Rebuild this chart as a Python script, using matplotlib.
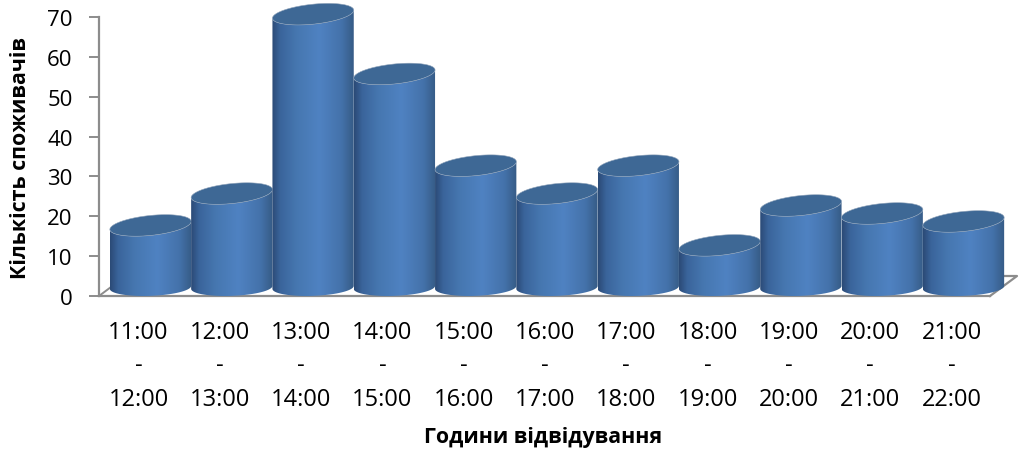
import numpy as np
from matplotlib import pyplot as plt
from matplotlib.colors import LinearSegmentedColormap
from matplotlib.patches import PathPatch, Polygon
from matplotlib.path import Path

# data
hours = ["11:00", "12:00", "13:00", "14:00", "15:00", "16:00", "17:00", "18:00", "19:00", "20:00", "21:00"]
hours_end = ["12:00", "13:00", "14:00", "15:00", "16:00", "17:00", "18:00", "19:00", "20:00", "21:00", "22:00"]
customers = [15, 23, 68, 53, 30, 23, 30, 10, 20, 18, 16]
y_ticks = [0, 10, 20, 30, 40, 50, 60, 70]

W, H = 1022, 452
PX_X = 81.3    # pixels per category
PX_Y = 3.986   # pixels per customer
HALF_W = 0.5   # cylinder half width, category units
TOP_B, TOP_K = 10.0 / PX_Y, 4.0 / PX_Y
BASE_B, BASE_K = 8.5 / PX_Y, 1.5 / PX_Y
LIFT = np.hypot(TOP_B, TOP_K)      # cap centre above its lowest point
BASE_LIFT = np.hypot(BASE_B, BASE_K)

plt.rcParams['font.family'] = ['Open Sans', 'DejaVu Sans']
fig = plt.figure(figsize=(W / 100, H / 100), dpi=100)
ax = fig.add_axes([99 / W, 1 - 297 / H, (W - 99) / W, 297 / H])

side_cmap = LinearSegmentedColormap.from_list(
    'side', [(0, '#2b4a76'), (0.1, '#3a649b'), (0.3, '#4677b0'), (0.58, '#4f82c2'),
             (0.85, '#4472aa'), (1, '#365b85')])
gradient = np.linspace(0, 1, 256).reshape(1, -1)


def ellipse_pts(cx, cy, b, k, t):
    return np.column_stack([cx + HALF_W * np.cos(t), cy + b * np.sin(t) + k * np.cos(t)])


for i, v in enumerate(customers):
    top_cy = v + LIFT
    t_low = np.linspace(np.pi, 2 * np.pi, 60)
    base = ellipse_pts(i, BASE_LIFT, BASE_B, BASE_K, t_low)
    top_back = ellipse_pts(i, top_cy, TOP_B, TOP_K, t_low[::-1])
    body_pts = np.vstack([base, top_back, base[:1]])
    body = PathPatch(Path(body_pts), fc='none', ec='none', zorder=3 + i)
    ax.add_patch(body)
    im = ax.imshow(gradient, cmap=side_cmap, aspect='auto', zorder=3 + i,
                   extent=(i - HALF_W, i + HALF_W, 0, top_cy + 3))
    im.set_clip_path(body)
    cap = ellipse_pts(i, top_cy, TOP_B, TOP_K, np.linspace(0, 2 * np.pi, 120))
    ax.add_patch(Polygon(cap, closed=True, fc='#3e6895', ec='#8fa3ba', lw=0.4, zorder=3 + i))

# imshow resets the limits
ax.set_xlim((99 - 150.5) / PX_X, (W - 150.5) / PX_X)
ax.set_ylim(0, 297 / PX_Y)

grey = '#8c8c8c'
for s in ['top', 'right']:
    ax.spines[s].set_visible(False)
ax.spines['left'].set_color(grey)
ax.spines['left'].set_linewidth(1.6)
ax.spines['left'].set_bounds(0, 70)
ax.spines['bottom'].set_color(grey)
ax.spines['bottom'].set_linewidth(1.6)
ax.spines['bottom'].set_bounds(ax.get_xlim()[0], (990 - 150.5) / PX_X)

# floor of the 3d box
fx = lambda px: (px - 150.5) / PX_X
ax.plot([fx(990), fx(1017), fx(995)], [0, 20 / PX_Y, 20 / PX_Y], color=grey, lw=1.6, zorder=2, clip_on=False)
ax.plot([fx(99), fx(111)], [0, 9 / PX_Y], color=grey, lw=1.4, zorder=2)

ax.set_yticks(y_ticks)
ax.tick_params(axis='y', length=7, width=1.4, color=grey, labelsize=16, pad=12, direction='out')
# category labels sit on the front edge of the box, left of the cylinders
ax.set_xticks([fx(138.5) + i for i in range(len(hours))])
ax.set_xticklabels([a + "\n-\n" + b for a, b in zip(hours, hours_end)], fontsize=17, linespacing=1.53)
ax.tick_params(axis='x', length=0, pad=17)

fig.text(543.5 / W, 1 - 438 / H, "Години відвідування", fontsize=15.4, fontweight='bold', ha='center', va='center')
fig.text(21 / W, 1 - 158 / H, "Кількість споживачів", fontsize=15.4, fontweight='bold', rotation=90, ha='center', va='center')

fig.savefig('out.png', dpi=100)
